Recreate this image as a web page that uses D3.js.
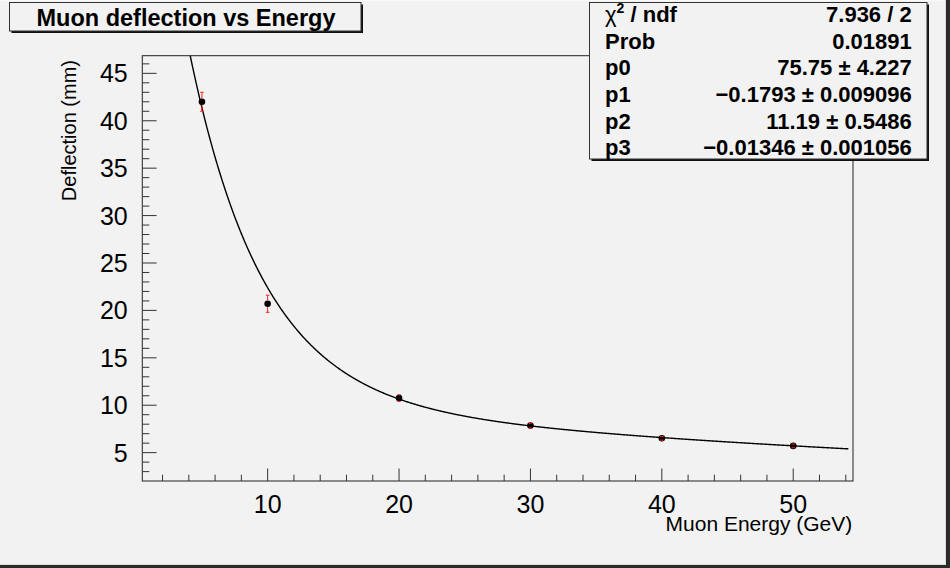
<!DOCTYPE html>
<html>
<head>
<meta charset="utf-8">
<script src="https://cdn.jsdelivr.net/npm/d3@7"></script>
<style>
html, body { margin: 0; padding: 0; background: #f2f2f2; }
svg { display: block; font-family: "Liberation Sans", Arial, Helvetica, sans-serif; }
</style>
</head>
<body>
<svg id="chart" width="950" height="568"></svg>
<script>
// ---- data ----
const energies = [5, 10, 20, 30, 40, 50];
const deflections = [42.0, 20.7, 10.75, 7.85, 6.52, 5.71];
const deflectionErrors = [1.0, 0.9, 0.35, 0.25, 0.2, 0.2];
const xTickValues = [10, 20, 30, 40, 50];
const yTickValues = [5, 10, 15, 20, 25, 30, 35, 40, 45];
const fitParams = [75.75, -0.1793, 11.19, -0.01346];
const statsLabels = ["χ2 / ndf", "Prob", "p0", "p1", "p2", "p3"];
const statsValues = ["7.936 / 2", "0.01891", "75.75 \u00b1 4.227", "\u22120.1793 \u00b1 0.009096", "11.19 \u00b1 0.5486", "\u22120.01346 \u00b1 0.001056"];
const chartTitle = "Muon deflection vs Energy";
const xTitle = "Muon Energy (GeV)";
const yTitle = "Deflection (mm)";

// ---- layout ----
const W = 950, H = 568;
const frame = { left: 142.3, top: 55.7, right: 853, bottom: 481 };
const svg = d3.select("#chart");

const x = d3.scaleLinear().domain([0.46, 54.55]).range([frame.left, frame.right]);
const y = d3.scaleLinear().domain([2.01, 46.86]).range([frame.bottom, frame.top]);

// background
svg.append("rect").attr("width", W).attr("height", H).attr("fill", "#f2f2f2");
// canvas bevel
svg.append("rect").attr("x", 0).attr("y", 0).attr("width", W).attr("height", 1).attr("fill", "#fafafa");
svg.append("rect").attr("x", 945).attr("y", 0).attr("width", 1).attr("height", H).attr("fill", "#dcdcdc");
svg.append("rect").attr("x", 0).attr("y", 564).attr("width", W).attr("height", 1).attr("fill", "#dcdcdc");
svg.append("rect").attr("x", 946).attr("y", 0).attr("width", 4).attr("height", H).attr("fill", "#2b2b2b");
svg.append("rect").attr("x", 0).attr("y", 565).attr("width", W).attr("height", 3).attr("fill", "#2b2b2b");

// frame
svg.append("rect")
  .attr("x", frame.left).attr("y", frame.top)
  .attr("width", frame.right - frame.left).attr("height", frame.bottom - frame.top)
  .attr("fill", "none").attr("stroke", "#222").attr("stroke-width", 1);

// x axis ticks (ROOT-like: ticks inside, pointing up)
const xMinor = d3.range(2, 55, 2).filter(v => v >= x.domain()[0] && v <= x.domain()[1] && !xTickValues.includes(v));
const gx = svg.append("g");
gx.selectAll("line.maj").data(xTickValues).join("line")
  .attr("x1", d => x(d)).attr("x2", d => x(d))
  .attr("y1", frame.bottom).attr("y2", frame.bottom - 12.5)
  .attr("stroke", "#333").attr("stroke-width", 1);
gx.selectAll("line.min").data(xMinor).join("line")
  .attr("x1", d => x(d)).attr("x2", d => x(d))
  .attr("y1", frame.bottom).attr("y2", frame.bottom - 6.3)
  .attr("stroke", "#333").attr("stroke-width", 1);
gx.selectAll("text").data(xTickValues).join("text")
  .attr("x", d => x(d)).attr("y", 513)
  .attr("text-anchor", "middle").attr("font-size", 25).attr("fill", "#000")
  .text(d => d);

// y axis ticks
const yMinor = d3.range(3, 47, 1).filter(v => v >= y.domain()[0] && v <= y.domain()[1] && !yTickValues.includes(v));
const gy = svg.append("g");
gy.selectAll("line.maj").data(yTickValues).join("line")
  .attr("x1", frame.left).attr("x2", frame.left + 14.3)
  .attr("y1", d => y(d)).attr("y2", d => y(d))
  .attr("stroke", "#333").attr("stroke-width", 1);
gy.selectAll("line.min").data(yMinor).join("line")
  .attr("x1", frame.left).attr("x2", frame.left + 7)
  .attr("y1", d => y(d)).attr("y2", d => y(d))
  .attr("stroke", "#333").attr("stroke-width", 1);
gy.selectAll("text").data(yTickValues).join("text")
  .attr("x", 127.7).attr("y", d => y(d) + 9)
  .attr("text-anchor", "end").attr("font-size", 25).attr("fill", "#000")
  .text(d => d);

// axis titles
svg.append("text").attr("x", 852.3).attr("y", 531)
  .attr("text-anchor", "end").attr("font-size", 21).text(xTitle);
svg.append("text").attr("transform", "translate(76,60) rotate(-90)")
  .attr("text-anchor", "end").attr("font-size", 20).text(yTitle);

// clip for the fit curve
svg.append("clipPath").attr("id", "frameClip").append("rect")
  .attr("x", frame.left).attr("y", frame.top)
  .attr("width", frame.right - frame.left).attr("height", frame.bottom - frame.top);

// fit function drawn from the displayed fit parameters
const fitF = e => fitParams[0] * Math.exp(fitParams[1] * e) + fitParams[2] * Math.exp(fitParams[3] * e);
const fitXs = d3.range(3.9, 54.25, 0.05);
svg.append("path")
  .datum(fitXs)
  .attr("clip-path", "url(#frameClip)")
  .attr("fill", "none").attr("stroke", "#000").attr("stroke-width", 1.4)
  .attr("d", d3.line().x(d => x(d)).y(d => y(fitF(d))));

// data points
const pts = energies.map((e, i) => ({ e, v: deflections[i], err: deflectionErrors[i] }));
const r = 3.3;
const gp = svg.append("g");
gp.selectAll("circle").data(pts).join("circle")
  .attr("cx", d => x(d.e)).attr("cy", d => y(d.v)).attr("r", r).attr("fill", "#000");
// error bars (line outside marker, caps on top)
pts.forEach(d => {
  const cx = x(d.e), cy = y(d.v);
  const up = y(d.v + d.err), dn = y(d.v - d.err);
  if (cy - up > r) {
    gp.append("line").attr("x1", cx).attr("x2", cx).attr("y1", up).attr("y2", cy - r)
      .attr("stroke", "#ff2020").attr("stroke-width", 1);
    gp.append("line").attr("x1", cx).attr("x2", cx).attr("y1", cy + r).attr("y2", dn)
      .attr("stroke", "#ff2020").attr("stroke-width", 1);
  }
  [up, dn].forEach(yy => {
    gp.append("line").attr("x1", cx - 1.8).attr("x2", cx + 1.8).attr("y1", yy).attr("y2", yy)
      .attr("stroke", "#ff2020").attr("stroke-width", 1);
  });
});

// pave boxes with shadow
function pave(x0, y0, x1, y1) {
  svg.append("rect").attr("x", x0 + 2).attr("y", y0 + 2).attr("width", x1 - x0).attr("height", y1 - y0).attr("fill", "#111");
  svg.append("rect").attr("x", x0).attr("y", y0).attr("width", x1 - x0).attr("height", y1 - y0)
    .attr("fill", "#f2f2f2").attr("stroke", "#333").attr("stroke-width", 1);
}
pave(9.5, 2.5, 361, 31);
svg.append("text").attr("x", 186).attr("y", 25.5)
  .attr("text-anchor", "middle").attr("font-size", 23.5).attr("font-weight", "bold").text(chartTitle);

// stats box
pave(589.5, 2.5, 927, 159);
const rowY = [22, 48.7, 75.3, 102, 128.6, 155.2];
statsLabels.forEach((lab, i) => {
  const t = svg.append("text").attr("x", 605).attr("y", rowY[i])
    .attr("font-size", 22).attr("font-weight", "bold");
  if (i === 0) {
    t.append("tspan").attr("font-weight", "normal").text("χ");
    t.append("tspan").attr("font-size", 14).attr("dy", -9).text("2");
    t.append("tspan").attr("dy", 9).text(" / ndf");
  } else {
    t.text(lab);
  }
  svg.append("text").attr("x", 911.7).attr("y", rowY[i])
    .attr("text-anchor", "end").attr("font-size", 22).attr("font-weight", "bold")
    .text(statsValues[i]);
});
</script>
</body>
</html>
